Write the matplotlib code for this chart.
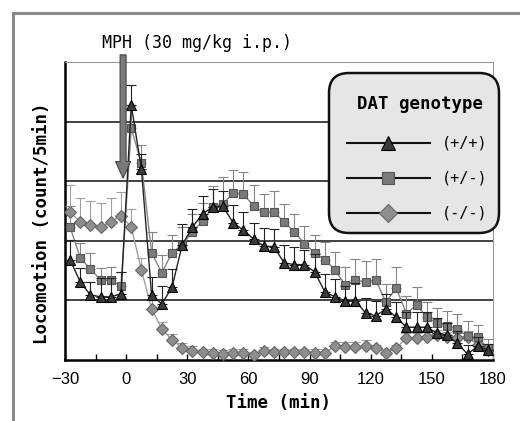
import matplotlib
matplotlib.use('Agg')
import matplotlib.pyplot as plt
from matplotlib.patches import FancyBboxPatch
from matplotlib.lines import Line2D

# time bins (min), 5-min counts, MPH injected at 0
times = [-27.5, -22.5, -17.5, -12.5, -7.5, -2.5,
         2.5, 7.5, 12.5, 17.5, 22.5, 27.5, 32.5, 37.5, 42.5, 47.5,
         52.5, 57.5, 62.5, 67.5, 72.5, 77.5, 82.5, 87.5, 92.5, 97.5,
         102.5, 107.5, 112.5, 117.5, 122.5, 127.5, 132.5, 137.5, 142.5, 147.5,
         152.5, 157.5, 162.5, 167.5, 172.5, 177.5]

wt = [1.68, 1.31, 1.09, 1.06, 1.06, 1.11,
      4.28, 3.20, 1.09, 0.94, 1.22, 1.93, 2.23, 2.45, 2.57, 2.58,
      2.30, 2.18, 2.03, 1.91, 1.90, 1.63, 1.60, 1.60, 1.48, 1.14,
      1.06, 0.99, 0.99, 0.79, 0.74, 0.86, 0.72, 0.55, 0.55, 0.55,
      0.45, 0.42, 0.28, 0.10, 0.23, 0.17]
wt_err = [0.33, 0.24, 0.22, 0.32, 0.32, 0.37,
          0.33, 0.25, 0.30, 0.30, 0.30, 0.35, 0.30, 0.30, 0.30, 0.25,
          0.30, 0.30, 0.27, 0.30, 0.30, 0.30, 0.30, 0.25, 0.30, 0.30,
          0.30, 0.25, 0.30, 0.25, 0.25, 0.25, 0.25, 0.25, 0.25, 0.25,
          0.25, 0.20, 0.20, 0.15, 0.15, 0.10]

het = [2.23, 1.71, 1.53, 1.34, 1.34, 1.24,
       3.89, 3.30, 1.80, 1.46, 1.80, 1.93, 2.15, 2.33, 2.57, 2.62,
       2.80, 2.79, 2.58, 2.48, 2.48, 2.32, 2.15, 1.95, 1.80, 1.68,
       1.51, 1.26, 1.34, 1.31, 1.34, 0.97, 1.21, 0.78, 0.92, 0.72,
       0.62, 0.57, 0.52, 0.40, 0.38, 0.20]
het_err = [0.35, 0.25, 0.27, 0.20, 0.22, 0.24,
           0.30, 0.30, 0.35, 0.30, 0.30, 0.30, 0.30, 0.30, 0.35, 0.45,
           0.38, 0.37, 0.35, 0.30, 0.35, 0.30, 0.30, 0.30, 0.30, 0.30,
           0.30, 0.30, 0.35, 0.35, 0.35, 0.30, 0.35, 0.30, 0.30, 0.25,
           0.25, 0.25, 0.25, 0.25, 0.20, 0.15]

ko = [2.48, 2.32, 2.27, 2.23, 2.32, 2.42,
      2.23, 1.51, 0.86, 0.52, 0.34, 0.20, 0.15, 0.13, 0.12, 0.10,
      0.12, 0.12, 0.08, 0.15, 0.13, 0.13, 0.13, 0.13, 0.12, 0.12,
      0.23, 0.22, 0.22, 0.23, 0.20, 0.12, 0.20, 0.37, 0.37, 0.39,
      0.42, 0.39, 0.37, 0.39, 0.25, 0.17]
ko_err = [0.45, 0.40, 0.40, 0.40, 0.40, 0.40,
          0.30, 0.20, 0.15, 0.12, 0.10, 0.08, 0.08, 0.06, 0.06, 0.06,
          0.06, 0.06, 0.06, 0.06, 0.06, 0.06, 0.06, 0.06, 0.06, 0.06,
          0.08, 0.08, 0.08, 0.10, 0.06, 0.06, 0.06, 0.08, 0.08, 0.10,
          0.08, 0.08, 0.08, 0.10, 0.08, 0.06]

labels = ['(+/+)', '(+/-)', '(-/-)']
xticks = [-30, 0, 30, 60, 90, 120, 150, 180]

mono = ['DejaVu Sans Mono']
narrow = ['Liberation Sans Narrow', 'Liberation Sans', 'DejaVu Sans']

fig = plt.figure(figsize=(5.2, 4.21), dpi=100)
ax = fig.add_axes([65/520, 1-360/421, 428/520, 298/421])

zeros = [0] * len(times)
series = [
    (ko, ko_err, 'D', '#8e8e8e', '#666666', '#a0a0a0', 6.0),
    (het, het_err, 's', '#7a7a7a', '#555555', '#858585', 6.0),
    (wt, wt_err, '^', '#3a3a3a', '#000000', '#222222', 7.0),
]
for i, (y, e, m, fc, ec, lc, ms) in enumerate(series):
    ax.errorbar(times, y, yerr=[zeros, e], fmt='none', ecolor=lc,
                elinewidth=0.8, capsize=3.5, capthick=0.8, zorder=2 + i)
    ax.plot(times, y, color=lc, lw=1.0, marker=m, ms=ms, mfc=fc, mec=ec,
            mew=0.8, zorder=3 + i)

ax.set_xlim(-30, 180)
ax.set_ylim(0, 5)
ax.set_xticks(xticks)
ax.set_xticks([-15, 15, 45, 75, 105, 135, 165], minor=True)
ax.set_yticks([1, 2, 3, 4])
ax.set_yticklabels([])
ax.tick_params(axis='y', length=0)
ax.tick_params(axis='x', which='both', direction='in', length=4, width=1, pad=9)
for lab in ax.get_xticklabels():
    lab.set_family(narrow)
    lab.set_fontsize(12)
ax.grid(axis='y', color='#222222', lw=1.2, zorder=0)
for s in ['left', 'bottom']:
    ax.spines[s].set_linewidth(1.8)
for s in ['top', 'right']:
    ax.spines[s].set_color('#999999')
    ax.spines[s].set_linewidth(0.8)

ax.set_xlabel('Time (min)', family=mono, fontweight='bold', fontsize=12.5,
              labelpad=5)
fig.text(42/520, 1-223/421, 'Locomotion (count/5min)', rotation=90,
         family=mono, fontweight='bold', fontsize=12.5, ha='center', va='center')

# MPH injection arrow
ax.annotate('', xy=(-1.5, 3.05), xytext=(-1.5, 5.12),
            arrowprops=dict(arrowstyle='simple,head_width=0.9,head_length=1.0,tail_width=0.36',
                            mutation_scale=12, fc='#7a7a7a', ec='#444444', lw=0.8,
                            shrinkA=0, shrinkB=0),
            annotation_clip=False, zorder=10)
fig.text(197/520, 1-43/421, 'MPH (30 mg/kg i.p.)', family=mono,
         fontsize=12, ha='center', va='center')

# legend box
lax = fig.add_axes([326/520, 1-236/421, 176/520, 166/421])
lax.set_xlim(326, 502)
lax.set_ylim(236, 70)
lax.axis('off')
lax.add_patch(FancyBboxPatch((329, 73), 170, 160,
                             boxstyle='round,pad=0,rounding_size=20',
                             fc='#e6e6e6', ec='#111111', lw=1.8))
lax.text(420, 104, 'DAT genotype', family=mono, fontweight='bold',
         fontsize=12.5, ha='center', va='center')
for j, (y, e, m, fc, ec, lc, ms) in enumerate(series[::-1]):
    yy = 143 + 35 * j
    lax.add_line(Line2D([347, 430], [yy, yy], color='#111111', lw=1.5))
    lax.add_line(Line2D([388], [yy], marker=m, ms=ms + 3, mfc=fc, mec=ec,
                        mew=0.8, color='none'))
    lax.text(442, yy, labels[j], family=mono, fontsize=11, ha='left',
             va='center')

# outer frame
fig.add_artist(Line2D([13/520, 1], [1-13/421, 1-13/421], color='#8a8a8a', lw=2.2))
fig.add_artist(Line2D([13/520, 13/520], [0, 1-13/421], color='#8a8a8a', lw=2.2))

fig.savefig('out.png', dpi=100)
